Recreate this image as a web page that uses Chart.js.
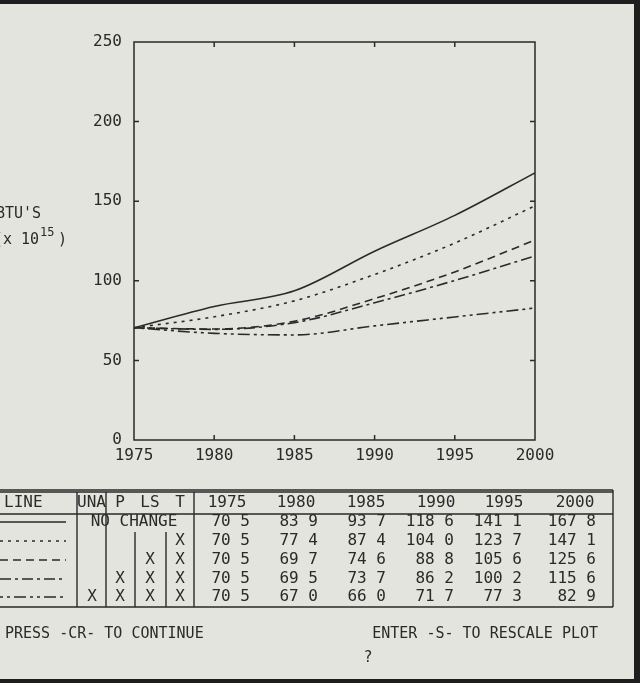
<!DOCTYPE html>
<html>
<head>
<meta charset="utf-8">
<script src="https://cdn.jsdelivr.net/npm/chart.js@4"></script>
<style>
  html, body { margin: 0; padding: 0; background: #e3e4de; overflow: hidden; }
  canvas { display: block; }
</style>
</head>
<body>
<canvas id="plot" width="640" height="683"></canvas>
<script>
// ============================================
// DATA
// ============================================
const YEARS = [1975, 1980, 1985, 1990, 1995, 2000];

const NO_CHANGE = [70.5, 83.9, 93.7, 118.6, 141.1, 167.8];
const CASE_T = [70.5, 77.4, 87.4, 104.0, 123.7, 147.1];
const CASE_LS_T = [70.5, 69.7, 74.6, 88.8, 105.6, 125.6];
const CASE_P_LS_T = [70.5, 69.5, 73.7, 86.2, 100.2, 115.6];
const CASE_ALL = [70.5, 67.0, 66.0, 71.7, 77.3, 82.9];

const SERIES = [NO_CHANGE, CASE_T, CASE_LS_T, CASE_P_LS_T, CASE_ALL];

// which adjustments are switched on for each row of the table
const UNA_FLAGS = [0, 0, 0, 0, 1];
const P_FLAGS = [0, 0, 0, 1, 1];
const LS_FLAGS = [0, 0, 1, 1, 1];
const T_FLAGS = [0, 1, 1, 1, 1];

const X_TICKS = [1975, 1980, 1985, 1990, 1995, 2000];
const Y_TICKS = [0, 50, 100, 150, 200, 250];

const LINE_DASHES = [[], [3, 5], [8, 5], [11, 4, 3, 4], [3, 4, 3, 4, 12, 4]];

// ============================================
// STYLE
// ============================================
const INK = "#2a2a2a";
const BG = "#e3e4de";
const MONO = '"DejaVu Sans Mono", "Liberation Mono", monospace';

function fmt(v) {
    return v.toFixed(1).replace(".", " ");
}

// background + dark photo frame
const backdrop = {
    id: "backdrop",
    beforeDraw(chart) {
        const c = chart.ctx;
        c.save();
        c.fillStyle = BG;
        c.fillRect(0, 0, chart.width, chart.height);
        c.restore();
    }
};

// frame around plot, inward ticks, axis title, table and prompts
const decorations = {
    id: "decorations",
    afterDraw(chart) {
        const c = chart.ctx;
        const a = chart.chartArea;
        const xs = chart.scales.x;
        const ys = chart.scales.y;

        c.save();
        c.strokeStyle = INK;
        c.lineWidth = 1.5;
        c.strokeRect(a.left, a.top, a.right - a.left, a.bottom - a.top);

        c.beginPath();
        X_TICKS.slice(1, -1).forEach(t => {
            const px = xs.getPixelForValue(t);
            c.moveTo(px, a.bottom); c.lineTo(px, a.bottom - 5);
            c.moveTo(px, a.top); c.lineTo(px, a.top + 5);
        });
        Y_TICKS.slice(1, -1).forEach(t => {
            const py = ys.getPixelForValue(t);
            c.moveTo(a.left, py); c.lineTo(a.left + 5, py);
            c.moveTo(a.right, py); c.lineTo(a.right - 5, py);
        });
        c.stroke();

        // y axis title (cut off at the left edge in the photo)
        c.fillStyle = INK;
        c.font = "15px " + MONO;
        c.textBaseline = "middle";
        c.textAlign = "left";
        c.fillText("BTU'S", -4, 214);
        c.fillText("(x 10", -6, 240);
        c.font = "12px " + MONO;
        c.fillText("15", 40, 233);
        c.font = "15px " + MONO;
        c.fillText(")", 58, 240);

        drawTable(c);

        // prompts
        c.font = "15px " + MONO;
        c.textAlign = "left";
        c.fillText("PRESS -CR- TO CONTINUE", 5, 634);
        c.textAlign = "right";
        c.fillText("ENTER -S- TO RESCALE PLOT", 598, 634);
        c.textAlign = "center";
        c.fillText("?", 368, 658);

        // dark edges of the photographed screen
        c.fillStyle = "#1e1e1e";
        c.fillRect(0, 0, 640, 4);
        c.fillRect(634, 0, 6, 683);
        c.fillRect(0, 679, 640, 4);
        c.restore();
    }
};

function drawTable(c) {
    const top = 492, headBottom = 514, bottom = 607, right = 613;
    const rowY = [522, 541, 560, 579, 597];
    const colLines = [77, 106, 135, 166, 194];
    const yearRight = [250, 318, 386, 454, 522, 596];
    const yearCenter = [227, 296, 366, 436, 504, 575];

    c.strokeStyle = INK;
    c.lineWidth = 1.4;
    c.beginPath();
    c.moveTo(-2, top); c.lineTo(right, top);
    c.moveTo(-2, top - 2); c.lineTo(right, top - 2);
    c.moveTo(-2, headBottom); c.lineTo(right, headBottom);
    c.moveTo(-2, bottom); c.lineTo(right, bottom);
    c.moveTo(right, top - 2); c.lineTo(right, bottom);
    colLines.forEach((x, i) => {
        const startY = (i === 2 || i === 3) ? 532 : top;
        c.moveTo(x, startY); c.lineTo(x, bottom);
    });
    c.stroke();

    c.fillStyle = INK;
    c.font = "16px " + MONO;
    c.textBaseline = "middle";
    c.textAlign = "left";
    c.fillText("LINE", 4, 503);
    c.fillText("UNA", 77, 503);
    c.textAlign = "center";
    c.fillText("P", 120, 503);
    c.fillText("LS", 150, 503);
    c.fillText("T", 180, 503);
    YEARS.forEach((yr, i) => c.fillText(String(yr), yearCenter[i], 503));

    c.fillText("NO CHANGE", 134, rowY[0]);

    SERIES.forEach((vals, r) => {
        const y = rowY[r];
        // line style sample
        c.save();
        c.setLineDash(LINE_DASHES[r]);
        c.lineWidth = 1.5;
        c.beginPath();
        c.moveTo(0, y); c.lineTo(66, y);
        c.stroke();
        c.restore();

        c.textAlign = "center";
        if (UNA_FLAGS[r]) c.fillText("X", 92, y);
        if (P_FLAGS[r]) c.fillText("X", 120, y);
        if (LS_FLAGS[r]) c.fillText("X", 150, y);
        if (T_FLAGS[r]) c.fillText("X", 180, y);

        c.textAlign = "right";
        vals.forEach((v, i) => c.fillText(fmt(v), yearRight[i], y));
    });
}

// ============================================
// CHART
// ============================================
const datasets = SERIES.map((vals, i) => ({
    data: YEARS.map((yr, j) => ({ x: yr, y: vals[j] })),
    borderColor: INK,
    borderWidth: 1.6,
    borderDash: LINE_DASHES[i],
    pointRadius: 0,
    fill: false,
    cubicInterpolationMode: "monotone"
}));

new Chart(document.getElementById("plot"), {
    type: "line",
    data: { datasets: datasets },
    options: {
        responsive: false,
        devicePixelRatio: 1,
        animation: false,
        layout: { padding: { left: 0, top: 42, right: 105, bottom: 213 } },
        plugins: { legend: { display: false }, tooltip: { enabled: false } },
        scales: {
            x: {
                type: "linear",
                min: 1975,
                max: 2000,
                afterBuildTicks: s => { s.ticks = X_TICKS.map(v => ({ value: v })); },
                afterFit: s => { s.height = 30; },
                grid: { display: false, drawTicks: false },
                border: { display: false },
                ticks: {
                    color: INK,
                    font: { family: MONO, size: 16 },
                    padding: 6,
                    maxRotation: 0,
                    callback: v => String(v)
                }
            },
            y: {
                min: 0,
                max: 250,
                afterBuildTicks: s => { s.ticks = Y_TICKS.map(v => ({ value: v })); },
                afterFit: s => { s.width = 134; },
                grid: { display: false, drawTicks: false },
                border: { display: false },
                ticks: {
                    color: INK,
                    font: { family: MONO, size: 16 },
                    padding: 12,
                    callback: v => String(v)
                }
            }
        }
    },
    plugins: [backdrop, decorations]
});
</script>
</body>
</html>
